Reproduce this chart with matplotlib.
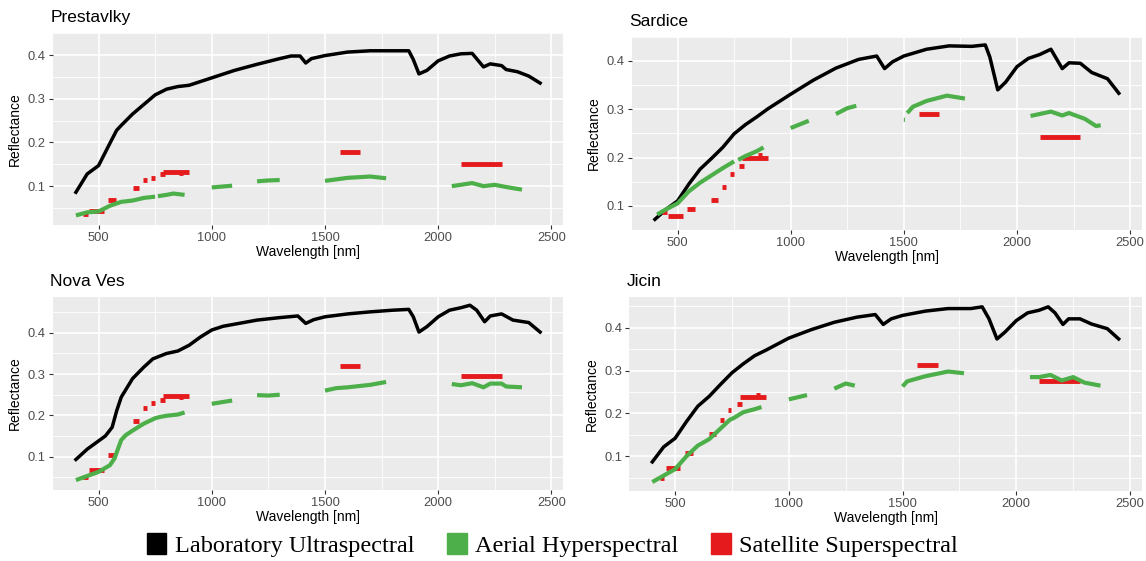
import numpy as np
import matplotlib
matplotlib.use("Agg")
import matplotlib.pyplot as plt
from matplotlib.patches import Patch

# ---------------------------
# Data
# ---------------------------
SITES = ["Prestavlky", "Sardice", "Nova Ves", "Jicin"]

# laboratory spectrum knots (nm)
LAB_WL = {
    "Prestavlky": [400, 450, 500, 550, 580, 600, 650, 700, 750, 800, 850, 900, 1000, 1100, 1200, 1300, 1350,
                   1390, 1415, 1440, 1500, 1600, 1700, 1800, 1870, 1890, 1915, 1950, 2000, 2050, 2100, 2150,
                   2200, 2230, 2280, 2300, 2350, 2400, 2450],
    "Sardice": [400, 450, 500, 550, 600, 650, 700, 750, 800, 850, 900, 1000, 1100, 1200, 1300, 1380, 1415,
                1450, 1500, 1600, 1700, 1800, 1860, 1880, 1915, 1950, 2000, 2050, 2100, 2150, 2200, 2230,
                2280, 2330, 2400, 2450],
    "Nova Ves": [400, 450, 500, 530, 560, 580, 600, 650, 700, 740, 800, 850, 900, 950, 1000, 1050, 1100,
                 1200, 1300, 1380, 1415, 1450, 1500, 1600, 1700, 1800, 1870, 1890, 1915, 1950, 2000, 2050,
                 2100, 2140, 2170, 2205, 2230, 2280, 2330, 2400, 2450],
    "Jicin": [400, 450, 500, 550, 600, 650, 700, 750, 800, 850, 900, 1000, 1100, 1200, 1300, 1380, 1415,
              1450, 1500, 1600, 1700, 1800, 1850, 1880, 1915, 1950, 2000, 2050, 2100, 2140, 2170, 2205,
              2230, 2280, 2330, 2400, 2450],
}
LAB_R = {
    "Prestavlky": [0.086, 0.128, 0.147, 0.198, 0.228, 0.239, 0.265, 0.287, 0.309, 0.322, 0.328, 0.331, 0.348,
                   0.365, 0.379, 0.392, 0.398, 0.398, 0.382, 0.392, 0.399, 0.407, 0.410, 0.410, 0.410, 0.390,
                   0.357, 0.365, 0.387, 0.398, 0.403, 0.404, 0.373, 0.380, 0.376, 0.367, 0.362, 0.352, 0.336],
    "Sardice": [0.072, 0.093, 0.110, 0.145, 0.176, 0.198, 0.221, 0.249, 0.268, 0.284, 0.301, 0.331, 0.360,
                0.385, 0.403, 0.410, 0.384, 0.398, 0.410, 0.424, 0.431, 0.430, 0.433, 0.408, 0.340, 0.356,
                0.388, 0.405, 0.413, 0.424, 0.384, 0.396, 0.395, 0.376, 0.363, 0.333],
    "Nova Ves": [0.093, 0.118, 0.138, 0.150, 0.171, 0.211, 0.244, 0.289, 0.317, 0.337, 0.350, 0.356, 0.370,
                 0.390, 0.407, 0.416, 0.421, 0.431, 0.437, 0.441, 0.423, 0.432, 0.439, 0.446, 0.451, 0.455,
                 0.457, 0.439, 0.402, 0.415, 0.439, 0.455, 0.461, 0.467, 0.455, 0.427, 0.441, 0.446, 0.431,
                 0.425, 0.402],
    "Jicin": [0.087, 0.122, 0.142, 0.181, 0.217, 0.240, 0.268, 0.295, 0.316, 0.335, 0.348, 0.376, 0.396,
              0.413, 0.425, 0.431, 0.408, 0.421, 0.429, 0.439, 0.445, 0.445, 0.449, 0.421, 0.374, 0.390,
              0.417, 0.435, 0.441, 0.449, 0.435, 0.408, 0.421, 0.421, 0.409, 0.398, 0.374],
}

# aerial hyperspectral segments (NaN = gap between detector / water bands)
AER_WL = {
    "Prestavlky": [400, 450, 500, 550, 600, 650, 700, 750, np.nan, 762, 800, 830, 880, np.nan,
                   1000, 1090, np.nan, 1200, 1250, 1300, np.nan, 1500, 1600, 1700, 1770, np.nan,
                   2060, 2150, 2200, 2250, 2300, 2370],
    "Sardice": [410, 450, 500, 550, 600, 650, 700, 750, np.nan, 768, 800, 850, 880, np.nan,
                1000, 1080, np.nan, 1200, 1250, 1290, np.nan, 1500, 1505, np.nan, 1515, 1540, 1600, 1690, 1770,
                np.nan, 2060, 2150, 2200, 2230, 2300, 2350, 2370],
    "Nova Ves": [400, 450, 500, 550, 570, 600, 620, 650, 700, 750, 770, 800, 850, 880, np.nan,
                 1000, 1090, np.nan, 1200, 1250, 1300, np.nan, 1500, 1550, 1600, 1700, 1770, np.nan,
                 2060, 2100, 2150, 2200, 2230, 2280, 2300, 2370],
    "Jicin": [400, 450, 500, 550, 600, 650, 700, 740, 760, 775, 800, 850, 880, np.nan,
              1000, 1080, np.nan, 1200, 1250, 1290, np.nan, 1500, 1520, 1600, 1700, 1770, np.nan,
              2060, 2100, 2150, 2200, 2250, 2300, 2370],
}
AER_R = {
    "Prestavlky": [0.033, 0.040, 0.042, 0.055, 0.064, 0.067, 0.073, 0.076, np.nan, 0.077, 0.080, 0.083, 0.080,
                   np.nan, 0.097, 0.101, np.nan, 0.111, 0.113, 0.114, np.nan, 0.112, 0.119, 0.122, 0.118,
                   np.nan, 0.100, 0.107, 0.100, 0.103, 0.098, 0.092],
    "Sardice": [0.082, 0.093, 0.105, 0.130, 0.148, 0.163, 0.178, 0.192, np.nan, 0.195, 0.203, 0.213, 0.221,
                np.nan, 0.261, 0.276, np.nan, 0.290, 0.302, 0.307, np.nan, 0.278, 0.278, np.nan, 0.292, 0.305,
                0.317, 0.328, 0.322, np.nan, 0.286, 0.295, 0.287, 0.292, 0.280, 0.265, 0.267],
    "Nova Ves": [0.043, 0.053, 0.063, 0.079, 0.095, 0.140, 0.152, 0.163, 0.180, 0.193, 0.196, 0.199,
                 0.202, 0.207, np.nan, 0.228, 0.236, np.nan, 0.249, 0.248, 0.250, np.nan, 0.260, 0.266,
                 0.268, 0.274, 0.281, np.nan, 0.276, 0.273, 0.278, 0.268, 0.277, 0.277, 0.270, 0.268],
    "Jicin": [0.040, 0.055, 0.070, 0.100, 0.125, 0.140, 0.165, 0.185, 0.190, 0.195, 0.203, 0.210,
              0.215, np.nan, 0.233, 0.243, np.nan, 0.258, 0.270, 0.265, np.nan, 0.263, 0.275, 0.287, 0.298,
              0.294, np.nan, 0.285, 0.285, 0.290, 0.277, 0.285, 0.272, 0.265],
}

# satellite (Sentinel-2 like) bands: start / end wavelength
BAND_LO = [433, 458, 543, 650, 698, 733, 773, 785, 855, 1565, 2100]
BAND_HI = [453, 523, 578, 680, 713, 748, 793, 900, 875, 1655, 2280]
SAT_R = {
    "Prestavlky": [0.037, 0.043, 0.069, 0.096, 0.113, 0.119, 0.127, 0.133, 0.130, 0.178, 0.151],
    "Sardice": [0.088, 0.078, 0.094, 0.113, 0.139, 0.166, 0.182, 0.200, 0.206, 0.290, 0.242],
    "Nova Ves": [0.050, 0.067, 0.103, 0.186, 0.219, 0.230, 0.237, 0.247, 0.245, 0.320, 0.296],
    "Jicin": [0.050, 0.072, 0.108, 0.152, 0.184, 0.208, 0.222, 0.238, 0.243, 0.313, 0.276],
}

Y_LIM = {
    "Prestavlky": (0.011, 0.430),
    "Sardice": (0.052, 0.448),
    "Nova Ves": (0.019, 0.487),
    "Jicin": (0.019, 0.472),
}

# panel rectangles in pixels: left, top, right, bottom
W, H = 1146, 561
RECTS = {
    "Prestavlky": (52.7, 33.3, 563.3, 225),
    "Sardice": (631.7, 36.7, 1142.0, 230),
    "Nova Ves": (52.7, 297, 563.3, 490),
    "Jicin": (629, 297, 1142.0, 491),
}

COL_LAB = "black"
COL_AER = "#4DAF4A"
COL_SAT = "#E41A1C"

plt.rcParams['font.family'] = ['Liberation Sans', 'DejaVu Sans']

fig = plt.figure(figsize=(W / 100, H / 100), dpi=100)

for site in SITES:
    l, t, r, b = RECTS[site]
    ax = fig.add_axes([l / W, 1 - b / H, (r - l) / W, (b - t) / H])
    ax.set_facecolor("#EBEBEB")
    for s in ax.spines.values():
        s.set_visible(False)

    ax.plot(LAB_WL[site], LAB_R[site], color=COL_LAB, lw=2.5, zorder=3)
    ax.hlines(SAT_R[site], BAND_LO, BAND_HI, color=COL_SAT, lw=3.5, zorder=4)
    ax.plot(AER_WL[site], AER_R[site], color=COL_AER, lw=3.0, solid_capstyle='butt', zorder=5)

    ax.set_xlim(297.5, 2552.5)
    ax.set_ylim(*Y_LIM[site])
    ax.set_xticks([500, 1000, 1500, 2000, 2500])
    ax.set_yticks([0.1, 0.2, 0.3, 0.4])
    ax.set_xticks([750, 1250, 1750, 2250], minor=True)
    ax.set_yticks([0.05, 0.15, 0.25, 0.35, 0.45], minor=True)
    ax.grid(which='major', color='white', lw=1.2, zorder=0)
    ax.grid(which='minor', color='white', lw=0.6, zorder=0)
    ax.set_axisbelow(True)
    ax.tick_params(which='major', length=3, width=0.8, color='#333333',
                   labelcolor='#4D4D4D', labelsize=9.3, pad=2)
    ax.tick_params(which='minor', length=0)
    ax.set_xlabel("Wavelength [nm]", fontsize=10, labelpad=1)
    ax.set_ylabel("Reflectance", fontsize=10, labelpad=4)
    ax.set_title(site, loc='left', fontsize=12.5, pad=8, x=-0.005)

handles = [Patch(color=COL_LAB), Patch(color=COL_AER), Patch(color=COL_SAT)]
labels = ["Laboratory Ultraspectral", "Aerial Hyperspectral", "Satellite Superspectral"]
fig.legend(handles, labels, loc='center', bbox_to_anchor=(0.482, 1 - 545 / H), ncol=3, frameon=False,
           prop={'family': 'Liberation Serif', 'size': 17.5}, handlelength=0.8, handleheight=0.95,
           handletextpad=0.35, columnspacing=1.35)

fig.savefig("out.png", dpi=100)
